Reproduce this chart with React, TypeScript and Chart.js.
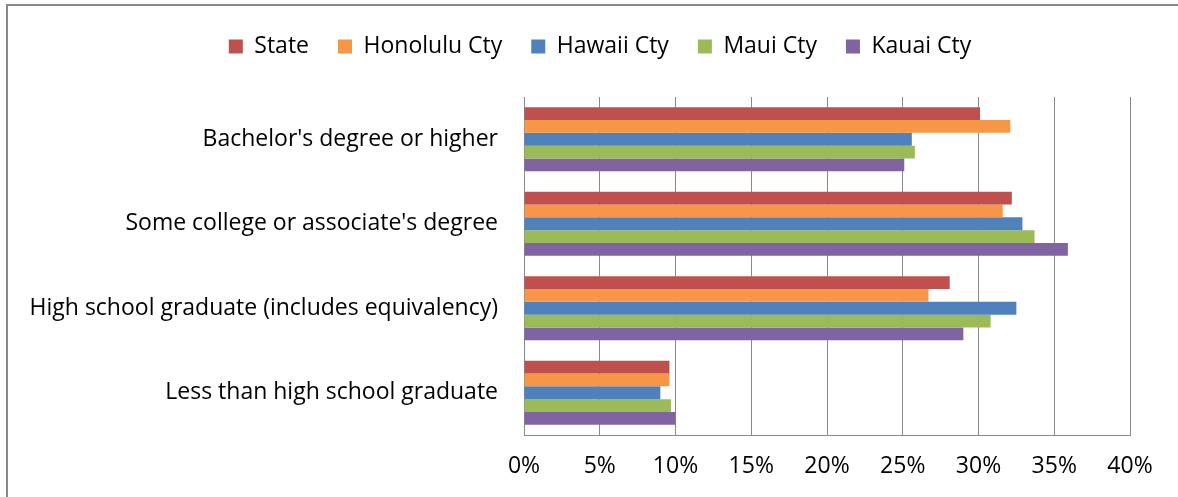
import React, { useEffect, useRef } from "react";
import { Chart, registerables } from "chart.js";

Chart.register(...registerables);

const categories = [
  "Bachelor's degree or higher",
  "Some college or associate's degree",
  "High school graduate (includes equivalency)",
  "Less than high school graduate",
];
const seriesNames = ["State", "Honolulu Cty", "Hawaii Cty", "Maui Cty", "Kauai Cty"];
const stateValues = [30.1, 32.2, 28.1, 9.6];
const honoluluValues = [32.1, 31.6, 26.7, 9.6];
const hawaiiValues = [25.6, 32.9, 32.5, 9.0];
const mauiValues = [25.8, 33.7, 30.8, 9.7];
const kauaiValues = [25.1, 35.9, 29.0, 10.0];
const seriesColors = ["#C0504D", "#F79646", "#4F81BD", "#9BBB59", "#8064A2"];
const xTickStep = 5;
const xMin = 0;
const xMax = 40;

const FONT = "'Open Sans', Lato, sans-serif";
const FONT_SIZE = 23;

const legendSpacing = {
  id: "legendSpacing",
  beforeInit(chart: any) {
    const legend = chart.legend;
    if (!legend) return;
    const orig = legend.fit;
    legend.fit = function () {
      orig.call(this);
      this.height = 91;
    };
  },
  beforeDraw(chart: any) {
    const legend = chart.legend;
    if (!legend) return;
    legend.left = 70;
  },
};

export default function App() {
  const ref = useRef<HTMLCanvasElement | null>(null);
  useEffect(() => {
    if (!ref.current) return;
    const values = [stateValues, honoluluValues, hawaiiValues, mauiValues, kauaiValues];
    const chart = new Chart(ref.current, {
      type: "bar",
      data: {
        labels: categories,
        datasets: seriesNames.map((name, i) => ({
          label: name,
          data: values[i],
          backgroundColor: seriesColors[i],
          borderWidth: 0,
          categoryPercentage: 0.76,
          barPercentage: 1,
        })),
      },
      options: {
        indexAxis: "y",
        animation: false,
        responsive: false,
        layout: { padding: { top: 6, left: 0, right: 48, bottom: 0 } },
        plugins: {
          legend: {
            position: "top",
            labels: {
              boxWidth: 14,
              boxHeight: 14,
              padding: 29,
              color: "#000",
              font: { family: FONT, size: FONT_SIZE },
            },
          },
          tooltip: { enabled: false },
        },
        scales: {
          x: {
            min: xMin,
            max: xMax,
            ticks: {
              stepSize: xTickStep,
              padding: 18,
              color: "#000",
              font: { family: FONT, size: FONT_SIZE },
              callback: (v: any) => v + "%",
            },
            grid: { color: "#8a8a8a", lineWidth: 1, drawTicks: false },
            border: { display: true, color: "#8a8a8a", width: 1 },
            afterFit: (s: any) => {
              s.height = 62;
            },
          },
          y: {
            ticks: {
              padding: 26,
              color: "#000",
              font: { family: FONT, size: FONT_SIZE },
            },
            grid: { display: false, drawTicks: false },
            border: { display: true, color: "#8a8a8a", width: 1 },
            afterFit: (s: any) => {
              s.width = 524;
            },
          },
        },
      },
      plugins: [legendSpacing],
    });
    return () => chart.destroy();
  }, []);
  return (
    <div style={{ position: "fixed", left: 0, top: 0, width: 1178, height: 497, background: "#fff", overflow: "hidden" }}>
      <div
        style={{
          position: "absolute",
          left: 6,
          top: 4,
          width: 1172,
          height: 493,
          borderLeft: "2px solid #888",
          borderTop: "2px solid #888",
          boxSizing: "border-box",
        }}
      />
      <canvas ref={ref} width={1178} height={497} style={{ position: "absolute", left: 0, top: 0 }} />
    </div>
  );
}
